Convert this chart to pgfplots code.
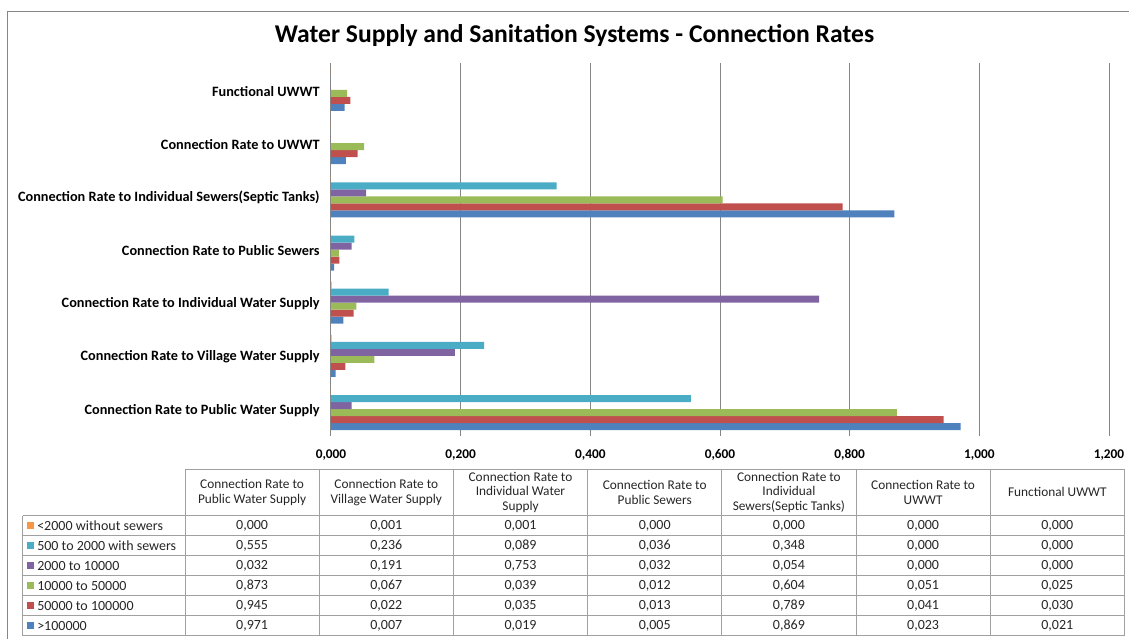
\documentclass[border=0pt]{standalone}
\usepackage{pgfplots}
\usepackage{pgfplotstable}
\pgfplotsset{compat=1.18}
\usepackage{fontspec}
\setmainfont{Carlito}
\definecolor{cblue}{HTML}{4F81BD}
\definecolor{cred}{HTML}{C0504D}
\definecolor{cgreen}{HTML}{9BBB59}
\definecolor{cpurple}{HTML}{8064A2}
\definecolor{cteal}{HTML}{4BACC6}
\definecolor{corange}{HTML}{F79646}
\definecolor{cgrid}{HTML}{868686}
\definecolor{ctab}{HTML}{A0A0A0}
% cat: 0 Public Water Supply ... 6 Functional UWWT
\pgfplotstableread{
cat o t p g r b
0 0.000 0.555 0.032 0.873 0.945 0.971
1 0.001 0.236 0.191 0.067 0.022 0.007
2 0.001 0.089 0.753 0.039 0.035 0.019
3 0.000 0.036 0.032 0.012 0.013 0.005
4 0.000 0.348 0.054 0.604 0.789 0.869
5 0.000 0.000 0.000 0.051 0.041 0.023
6 0.000 0.000 0.000 0.025 0.030 0.021
}\data
\begin{document}
\begin{tikzpicture}
\useasboundingbox (0,0) rectangle (846.75pt,-479.25pt);
\begin{axis}[
  at={(248.25pt,-326.7pt)}, anchor=south west,
  scale only axis, width=583.5pt, height=279.15pt,
  xbar=0pt, bar width=5.25pt,
  xmin=0, xmax=1.2, ymin=-0.5, ymax=6.5,
  xtick={0,0.2,0.4,0.6,0.8,1.0,1.2},
  xticklabels={{0,000},{0,200},{0,400},{0,600},{0,800},{1,000},{1,200}},
  ytick={0,1,2,3,4,5,6},
  yticklabels={Connection Rate to Public Water Supply,Connection Rate to Village Water Supply,Connection Rate to Individual Water Supply,Connection Rate to Public Sewers,Connection Rate to Individual Sewers(Septic Tanks),Connection Rate to UWWT,Functional UWWT},
  xmajorgrids, grid style={cgrid,line width=0.75pt},
  axis line style={draw=none},
  major tick length=0pt,
  xticklabel style={font=\bfseries\fontsize{10}{11}\selectfont, yshift=-7pt},
  yticklabel style={font=\bfseries\fontsize{10.7}{12}\selectfont, xshift=-5pt, yshift=-1pt},
  every axis plot/.append style={draw=none},
]
\addplot[fill=cblue] table[x=b,y=cat]{\data};
\addplot[fill=cred] table[x=r,y=cat]{\data};
\addplot[fill=cgreen] table[x=g,y=cat]{\data};
\addplot[fill=cpurple] table[x=p,y=cat]{\data};
\addplot[fill=cteal] table[x=t,y=cat]{\data};
\addplot[fill=corange] table[x=o,y=cat]{\data};
\end{axis}
\begin{scope}[x=0.75pt,y=-0.75pt]
\draw[cgrid,line width=0.75pt] (7,660) -- (7,11) -- (1150,11);
\node[font=\bfseries\fontsize{19.2}{22}\selectfont] at (574.5,36) {Water Supply and Sanitation Systems - Connection Rates};
% table grid
\begin{scope}[ctab,line width=0.75pt]
\draw (185,469) -- (1124.4,469);
\foreach \yy in {515.7,535.7,555.7,575.7,595.7,615.7,635.7} \draw (22.7,\yy) -- (1124.4,\yy);
\draw (22.7,515.7) -- (22.7,635.7);
\foreach \k in {0,...,7} \draw ({185+134.2*\k},469) -- ({185+134.2*\k},635.7);
\end{scope}
% headers
\begin{scope}[every node/.style={font=\fontsize{10}{11}\selectfont, align=center, text=black!85}]
\node at ({185+134.2*0.5},492.4) {Connection Rate to\\Public Water Supply};
\node at ({185+134.2*1.5},492.4) {Connection Rate to\\Village Water Supply};
\node at ({185+134.2*2.5},492.4) {Connection Rate to\\Individual Water\\Supply};
\node at ({185+134.2*3.5},492.4) {Connection Rate to\\Public Sewers};
\node at ({185+134.2*4.5},492.4) {Connection Rate to\\Individual\\Sewers(Septic Tanks)};
\node at ({185+134.2*5.5},492.4) {Connection Rate to\\UWWT};
\node at ({185+134.2*6.5},492.4) {Functional UWWT};
\end{scope}
% legend rows
\foreach \s/\c/\lab [count=\i from 0] in {o/corange/{<2000 without sewers},t/cteal/{500 to 2000 with sewers},p/cpurple/{2000 to 10000},g/cgreen/{10000 to 50000},r/cred/{50000 to 100000},b/cblue/{>100000}} {
  \fill[\c] (26.5,{525.7+20*\i-3.5}) rectangle (33.5,{525.7+20*\i+3.5});
  \node[anchor=west,inner sep=0pt,font=\fontsize{10.5}{11}\selectfont,text=black!85] at (37,{525.7+20*\i}) {\lab};
  \foreach \cc in {0,...,6} {
    \pgfplotstablegetelem{\cc}{\s}\of\data
    \node[font=\fontsize{10.5}{11}\selectfont,text=black!85] at ({185+134.2*(\cc+0.5)},{525.7+20*\i}) {\pgfmathprintnumber[fixed,fixed zerofill,precision=3,use comma,assume math mode=true]{\pgfplotsretval}};
  }
}
\end{scope}
\end{tikzpicture}
\end{document}
